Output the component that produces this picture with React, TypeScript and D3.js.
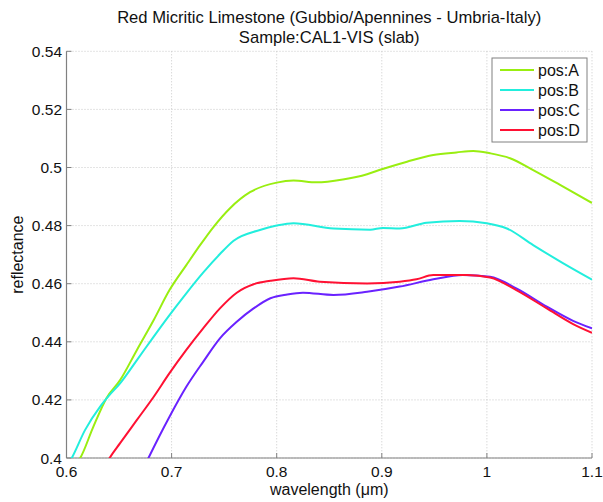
import React from "react";
import * as d3 from "d3";

const titleLines = ["Red Micritic Limestone (Gubbio/Apennines - Umbria-Italy)", "Sample:CAL1-VIS (slab)"];
const xTicks = [0.6, 0.7, 0.8, 0.9, 1.0, 1.1];
const yTicks = [0.4, 0.42, 0.44, 0.46, 0.48, 0.5, 0.52, 0.54];

const wlA = [0.605, 0.613, 0.625, 0.638, 0.651, 0.667, 0.683, 0.698, 0.714, 0.7254, 0.74, 0.7556, 0.7746, 0.8, 0.816, 0.838, 0.863, 0.886, 0.9, 0.924, 0.949, 0.971, 0.987, 1.003, 1.022, 1.044, 1.0696, 1.1];
const refA = [0.397, 0.4, 0.4103, 0.4206, 0.4268, 0.4372, 0.4475, 0.4578, 0.4664, 0.4724, 0.4796, 0.486, 0.4915, 0.4948, 0.4955, 0.4949, 0.4959, 0.4977, 0.4994, 0.502, 0.5043, 0.5052, 0.5057, 0.5049, 0.5032, 0.4991, 0.494, 0.4878];

const wlB = [0.6, 0.605, 0.6176, 0.632, 0.64, 0.651, 0.667, 0.683, 0.698, 0.714, 0.73, 0.746, 0.759, 0.784, 0.8, 0.816, 0.854, 0.889, 0.901, 0.917, 0.9427, 0.974, 0.9998, 1.019, 1.044, 1.0727, 1.1];
const refB = [0.397, 0.4, 0.4096, 0.4177, 0.4213, 0.4257, 0.4337, 0.4418, 0.4492, 0.4567, 0.4638, 0.4702, 0.4748, 0.4785, 0.48, 0.4808, 0.479, 0.4786, 0.4792, 0.479, 0.481, 0.4816, 0.4808, 0.479, 0.4733, 0.467, 0.4614];

const wlC = [0.674, 0.678, 0.698, 0.714, 0.73, 0.746, 0.762, 0.778, 0.794, 0.81, 0.825, 0.854, 0.886, 0.917, 0.949, 0.977, 1.003, 1.028, 1.057, 1.082, 1.1];
const refC = [0.397, 0.4, 0.4142, 0.4245, 0.4331, 0.4412, 0.4469, 0.4515, 0.455, 0.4563, 0.4569, 0.4561, 0.4572, 0.459, 0.4615, 0.463, 0.4624, 0.4584, 0.4521, 0.4472, 0.4446];

const wlD = [0.636, 0.641, 0.651, 0.667, 0.683, 0.698, 0.714, 0.73, 0.746, 0.762, 0.778, 0.794, 0.816, 0.841, 0.886, 0.917, 0.933, 0.949, 0.981, 1.003, 1.028, 1.057, 1.082, 1.1];
const refD = [0.397, 0.4, 0.4051, 0.4131, 0.4211, 0.4292, 0.4372, 0.4446, 0.4515, 0.4569, 0.4598, 0.461, 0.4619, 0.4607, 0.4601, 0.4607, 0.4615, 0.463, 0.463, 0.4621, 0.4578, 0.4515, 0.4461, 0.4431];

const seriesNames = ["pos:A", "pos:B", "pos:C", "pos:D"];
const seriesColors = ["#99ee11", "#22eedd", "#6a22ff", "#ff1133"];

const W = 603, H = 502;
const L = 66.5, R = 592, T = 51.3, B = 458;

export default function App() {
  const x = d3.scaleLinear().domain([0.6, 1.1]).range([L, R]);
  const y = d3.scaleLinear().domain([0.4, 0.54]).range([B, T]);
  const line = d3.line<[number, number]>().x(d => x(d[0])).y(d => y(d[1])).curve(d3.curveMonotoneX);
  const series = [
    wlA.map((w, i) => [w, refA[i]] as [number, number]),
    wlB.map((w, i) => [w, refB[i]] as [number, number]),
    wlC.map((w, i) => [w, refC[i]] as [number, number]),
    wlD.map((w, i) => [w, refD[i]] as [number, number]),
  ];
  const font = "'Liberation Sans', Arial, Helvetica, sans-serif";
  const fmt = (v: number) => String(+v.toFixed(2));
  return (
    <svg width={W} height={H} style={{ position: "absolute", left: 0, top: 0, background: "#fff" }} fontFamily={font}>
      <defs>
        <clipPath id="plot">
          <rect x={L} y={T} width={R - L} height={B - T} />
        </clipPath>
      </defs>
      {/* grid */}
      {xTicks.map(t => (
        <line key={"gx" + t} x1={x(t)} x2={x(t)} y1={T} y2={B} stroke="#c8c8c8" strokeWidth={1} strokeDasharray="1,2" />
      ))}
      {yTicks.map(t => (
        <line key={"gy" + t} x1={L} x2={R} y1={y(t)} y2={y(t)} stroke="#c8c8c8" strokeWidth={1} strokeDasharray="1,2" />
      ))}
      {/* axes */}
      <line x1={L} x2={L} y1={T} y2={B} stroke="#808080" strokeWidth={1.2} />
      <line x1={L} x2={R} y1={B} y2={B} stroke="#808080" strokeWidth={1.2} />
      {xTicks.map(t => (
        <g key={"tx" + t}>
          <line x1={x(t)} x2={x(t)} y1={B} y2={B - 5} stroke="#808080" />
          <text x={x(t)} y={477} textAnchor="middle" fontSize={15.5} fill="#111">{fmt(t)}</text>
        </g>
      ))}
      {yTicks.map(t => (
        <g key={"ty" + t}>
          <line x1={L} x2={L + 5} y1={y(t)} y2={y(t)} stroke="#808080" />
          <text x={62} y={y(t) + 5.5} textAnchor="end" fontSize={15.5} fill="#111">{fmt(t)}</text>
        </g>
      ))}
      {/* series */}
      <g clipPath="url(#plot)">
        {series.map((s, i) => (
          <path key={i} d={line(s) || ""} fill="none" stroke={seriesColors[i]} strokeWidth={2} />
        ))}
      </g>
      {/* titles */}
      <text x={(L + R) / 2} y={22.5} textAnchor="middle" fontSize={16.6} fill="#111">{titleLines[0]}</text>
      <text x={(L + R) / 2} y={43} textAnchor="middle" fontSize={16.6} fill="#111">{titleLines[1]}</text>
      <text x={(L + R) / 2} y={495} textAnchor="middle" fontSize={16} fill="#111">wavelength (μm)</text>
      <text transform={`translate(23,${(T + B) / 2}) rotate(-90)`} textAnchor="middle" fontSize={16} fill="#111">reflectance</text>
      {/* legend */}
      <rect x={492} y={58} width={95} height={84} fill="#fff" stroke="#808080" strokeWidth={1} />
      {seriesNames.map((n, i) => (
        <g key={n}>
          <line x1={500} x2={534} y1={70 + i * 20} y2={70 + i * 20} stroke={seriesColors[i]} strokeWidth={2} />
          <text x={538} y={75.5 + i * 20} fontSize={16} fill="#111">{n}</text>
        </g>
      ))}
    </svg>
  );
}
